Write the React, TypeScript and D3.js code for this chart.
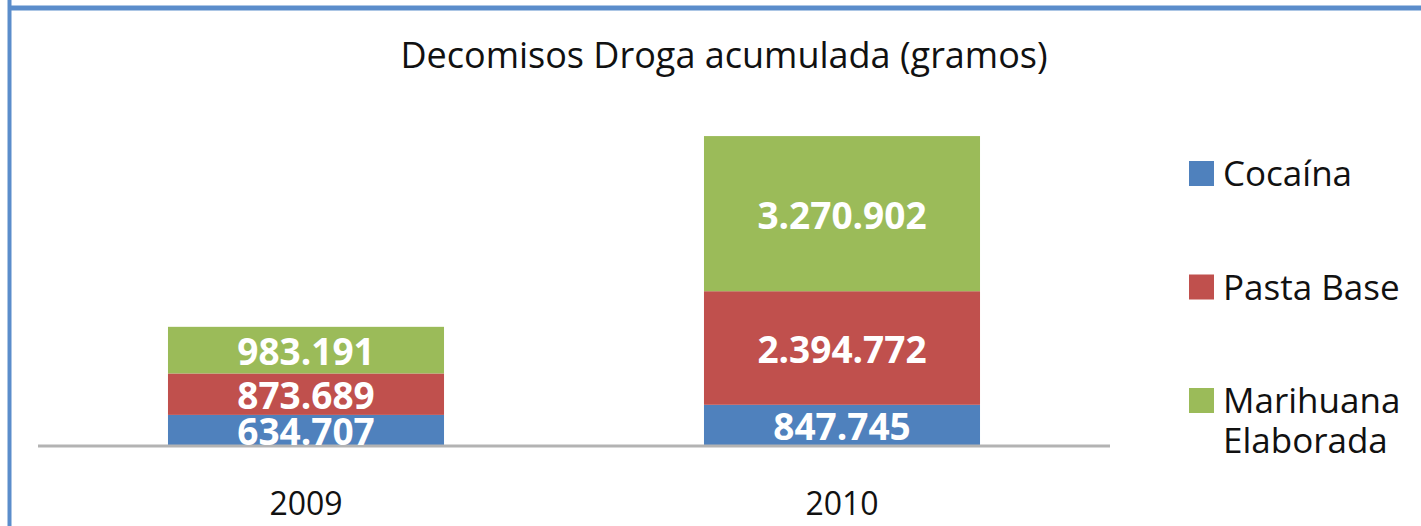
import React from "react";
import * as d3 from "d3";

const categories = ["2009", "2010"];
const seriesNames = ["Cocaína", "Pasta Base", "Marihuana Elaborada"];
const cocaina = [634707, 847745];
const pastaBase = [873689, 2394772];
const marihuana = [983191, 3270902];
const seriesColors = ["#4f81bd", "#c0504d", "#9bbb59"];
const legendLines = [["Cocaína"], ["Pasta Base"], ["Marihuana", "Elaborada"]];
const title = "Decomisos Droga acumulada (gramos)";

const W = 1421;
const H = 526;
const FONT = "'Open Sans', 'DejaVu Sans', sans-serif";

function fmt(v: number): string {
  return d3.format(",")(v).replace(/,/g, ".");
}

export default function App() {
  const x = d3
    .scaleBand<string>()
    .domain(categories)
    .range([38, 1110])
    .paddingInner(0.485)
    .paddingOuter(0.2425);
  const y = d3.scaleLinear().domain([0, 7000000]).range([445, 113]);

  const rows = categories.map((c, i) => ({
    cat: c,
    s0: cocaina[i],
    s1: pastaBase[i],
    s2: marihuana[i],
  }));
  const stack = d3.stack<any>().keys(["s0", "s1", "s2"]);
  const layers = stack(rows);

  return (
    <svg
      width={W}
      height={H}
      style={{ position: "absolute", left: 0, top: 0, display: "block", background: "#fff" }}
    >
      <rect x={0} y={0} width={W} height={H} fill="#ffffff" />
      {/* frame */}
      <line x1={9.5} y1={0} x2={9.5} y2={H} stroke="#5b8dcb" strokeWidth={4} />
      <line x1={8} y1={8} x2={W} y2={8} stroke="#5b8dcb" strokeWidth={5} />

      <text
        x={724}
        y={68}
        textAnchor="middle"
        fontFamily={FONT}
        fontSize={36}
        fill="#111"
      >
        {title}
      </text>

      {layers.map((layer, li) => (
        <g key={layer.key}>
          {layer.map((d: any, i: number) => (
            <rect
              key={i}
              x={x(categories[i])}
              y={y(d[1])}
              width={x.bandwidth()}
              height={y(d[0]) - y(d[1])}
              fill={seriesColors[li]}
            />
          ))}
        </g>
      ))}

      <line x1={38} y1={446} x2={1110} y2={446} stroke="#b3b3b3" strokeWidth={3} />

      {layers.map((layer, li) => (
        <g key={"l" + layer.key}>
          {layer.map((d: any, i: number) => (
            <text
              key={i}
              x={(x(categories[i]) as number) + x.bandwidth() / 2}
              y={(y(d[0]) + y(d[1])) / 2 + 15}
              textAnchor="middle"
              fontFamily={FONT}
              fontWeight="bold"
              fontSize={37}
              fill="#ffffff"
            >
              {fmt(d[1] - d[0])}
            </text>
          ))}
        </g>
      ))}

      {categories.map((c) => (
        <text
          key={c}
          x={(x(c) as number) + x.bandwidth() / 2}
          y={515}
          textAnchor="middle"
          fontFamily={FONT}
          fontSize={32}
          fill="#111"
        >
          {c}
        </text>
      ))}

      {seriesNames.map((s, i) => {
        const base = 186 + i * 113.5;
        return (
          <g key={s}>
            <rect x={1189} y={base - 25} width={25} height={25} fill={seriesColors[i]} />
            {legendLines[i].map((ln, j) => (
              <text
                key={j}
                x={1223}
                y={base + j * 40}
                fontFamily={FONT}
                fontSize={35}
                fill="#111"
              >
                {ln}
              </text>
            ))}
          </g>
        );
      })}
    </svg>
  );
}
